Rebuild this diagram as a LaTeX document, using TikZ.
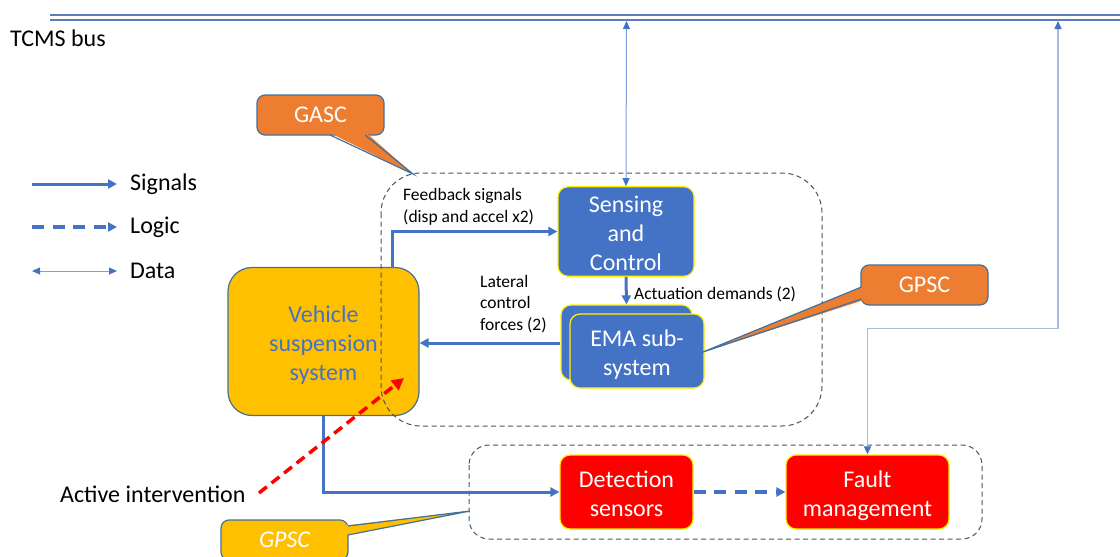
\documentclass[tikz,border=0pt]{standalone}
\usepackage{fontspec}
\setmainfont{Carlito}
\usetikzlibrary{arrows.meta}

\definecolor{sigblue}{HTML}{4472C4}
\definecolor{busblue}{HTML}{5B7DBE}
\definecolor{grpline}{HTML}{44546A}
\definecolor{boxedge}{HTML}{41719C}
\definecolor{calloutorange}{HTML}{ED7D31}
\definecolor{amber}{HTML}{FFC000}
\definecolor{datathin}{HTML}{7F9FD6}
\definecolor{datapale}{HTML}{A9BBDD}

% fixed height of the first line of a box label, so all boxes centre their lines alike
\newcommand{\boxtop}{\rule{0pt}{25.5pt}}

\tikzset{
  bigfont/.style={font=\fontsize{24}{29}\selectfont},
  smallfont/.style={font=\fontsize{17.5}{21.5}\selectfont},
  evenlines/.style={execute at end node={\rule[-6pt]{0pt}{6pt}}},
  sig/.style={draw=sigblue, line width=3pt, -{Triangle[length=9pt,width=9pt]}},
  logic/.style={sig, line width=3.2pt, dash pattern=on 12pt off 8.5pt},
  data/.style={draw=datathin, line width=1pt,
    {Triangle[length=8pt,width=7pt,color=sigblue]}-{Triangle[length=8pt,width=7pt,color=sigblue]}},
  datapath/.style={data, draw=datapale, line width=1.6pt},
  intervention/.style={draw=red, line width=3.5pt, dash pattern=on 10pt off 6pt,
    -{Triangle[length=12pt,width=12pt]}},
  blockbox/.style={bigfont, evenlines, rounded corners=10pt, fill=sigblue, draw=yellow,
    line width=1.2pt, text=white, align=center, inner sep=0pt},
  alarmbox/.style={blockbox, fill=red},
  plantbox/.style={bigfont, evenlines, rounded corners=24pt, fill=amber, draw=boxedge,
    line width=1.2pt, text=sigblue, align=center, inner sep=0pt},
  groupbox/.style={draw=grpline, line width=1pt, dash pattern=on 5pt off 3.5pt},
  calloutbox/.style={bigfont, rounded corners=8pt, draw=boxedge, line width=1.2pt,
    text=white, inner sep=0pt, minimum width=127pt, minimum height=40pt},
  calloutedge/.style={draw=boxedge, line width=1.2pt, line join=miter},
  label/.style={smallfont, align=left, inner sep=0pt, anchor=west},
  legendtext/.style={bigfont, inner sep=0pt, anchor=west},
}

\begin{document}
\begin{tikzpicture}[x=1pt, y=-1pt]
  \useasboundingbox (0,0) rectangle (1120,557);
  \clip (0,0) rectangle (1120,557);

  % TCMS bus
  \draw[busblue, line width=2pt] (50,15) -- (1120,15);
  \draw[busblue, line width=2pt] (50,19.5) -- (1120,19.5);
  \node[legendtext] (busname) at (10,38) {TCMS bus};
  \coordinate (busA) at (626.5,21);
  \coordinate (busB) at (1058,21);

  % legend
  \coordinate (lgS0) at (32,184);  \coordinate (lgS1) at (117,184);
  \coordinate (lgL0) at (32,227);  \coordinate (lgL1) at (117,227);
  \coordinate (lgD0) at (32,271);  \coordinate (lgD1) at (117,271);
  \draw[sig] (lgS0) -- (lgS1);
  \draw[logic] (lgL0) -- (lgL1);
  \draw[data] (lgD0) -- (lgD1);
  \node[legendtext] (lgSignals) at (130,184) {Signals};
  \node[legendtext] (lgLogic) at (130,227) {Logic};
  \node[legendtext] (lgData) at (130,271) {Data};

  % plant
  \node[plantbox, minimum width=191pt, minimum height=148pt] (veh) at (323.5,341.5)
    {\boxtop Vehicle\\suspension\\system};

  % active control group
  \draw[groupbox, rounded corners=40pt] (381,173) rectangle (822,426);
  \draw[groupbox, rounded corners=20pt] (469,445) rectangle (982,539);

  % blocks
  \node[blockbox, minimum width=136pt, minimum height=81pt] (sense) at (626,231.5)
    {\boxtop Sensing\\and\\Control};
  \node[blockbox, minimum width=131pt, minimum height=75pt] (emaback) at (626.5,342.5) {};
  \node[blockbox, minimum width=134pt, minimum height=74pt] (ema) at (637,351)
    {\boxtop EMA sub-\\system};
  \node[alarmbox, minimum width=133pt, minimum height=74pt] (det) at (626.5,492)
    {\boxtop Detection\\sensors};
  \node[alarmbox, minimum width=163pt, minimum height=74pt] (fault) at (867.5,492)
    {\boxtop Fault\\management};

  % signal connections
  \coordinate (fbstart) at (392,268);
  \draw[sig] (fbstart) |- (sense.west);
  \node[label] (fblabel) at (403,207) {Feedback signals\\(disp and accel x2)};
  \draw[sig] (sense.south) -- (emaback.north);
  \node[label] (actlabel) at (634,294) {Actuation demands (2)};
  \draw[sig] (emaback.west |- 0,343) -- (veh.east |- 0,343);
  \node[label] (latlabel) at (480,304) {Lateral\\control\\forces (2)};
  \draw[sig] (veh.south) |- (det.west);
  \draw[logic] (det.east) -- (fault.west);

  % data connections
  \draw[data] (busA) -- (sense.north);
  \coordinate (bend) at (1058,328.5);
  \draw[datapath] (busB) -- (bend) -| (fault.north);

  % intervention
  \node[legendtext] (act) at (60,494) {Active intervention};
  \coordinate (ivstart) at (259,493);
  \coordinate (ivend) at (404,378);
  \draw[intervention] (ivstart) -- (ivend);

  % GASC callout
  \node[calloutbox, fill=calloutorange] (gasc) at (320.5,115) {GASC};
  \fill[calloutorange] (329,132.5) -- (413,174) -- (366,132.5) -- cycle;
  \draw[calloutedge] (330,135) -- (413,174) -- (365,135);

  % GPSC callout (orange)
  \node[calloutbox, fill=calloutorange] (gpscA) at (924.5,285) {GPSC};
  \fill[calloutorange] (864,286) -- (703,352) -- (864,300) -- cycle;
  \draw[calloutedge] (861.5,287) -- (703,352) -- (861.5,299);

  % GPSC callout (amber)
  \node[calloutbox, fill=amber, font=\fontsize{24}{29}\selectfont\itshape] (gpscB) at (284.5,540) {GPSC};
  \fill[amber] (345,525.5) -- (470,511) -- (345,535.5) -- cycle;
  \draw[calloutedge] (348,526) -- (470,511) -- (348,535);
\end{tikzpicture}
\end{document}
